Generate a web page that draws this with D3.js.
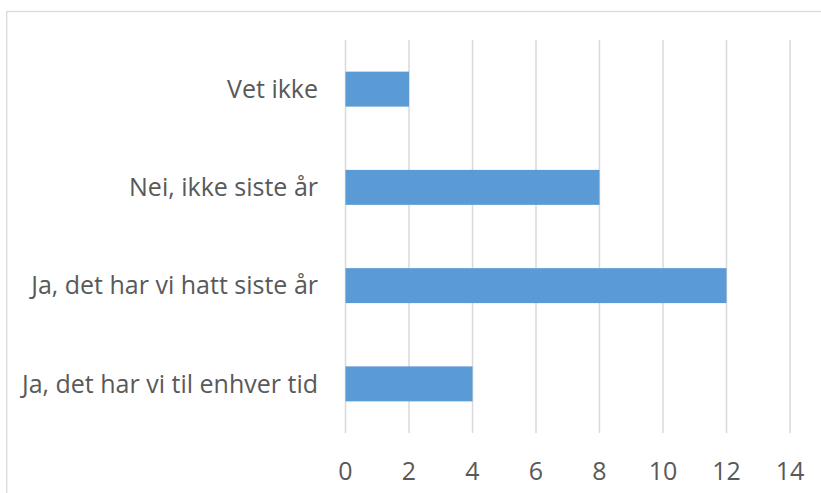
<!DOCTYPE html>
<html>
<head>
<meta charset="utf-8">
<script src="https://cdn.jsdelivr.net/npm/d3@7"></script>
<style>
  body { margin: 0; background: #fff; }
  text { font-family: "Open Sans", sans-serif; }
</style>
</head>
<body>
<div id="chart"></div>
<script>
// data, top to bottom as shown
const categories = ["Vet ikke", "Nei, ikke siste år", "Ja, det har vi hatt siste år", "Ja, det har vi til enhver tid"];
const values = [2, 8, 12, 4];
const xTicks = [0, 2, 4, 6, 8, 10, 12, 14];

const W = 821, H = 493;
const margin = { top: 40, right: 31, bottom: 60, left: 345.5 };
const width = W - margin.left - margin.right,
  height = H - margin.top - margin.bottom;

const svg = d3.select("#chart")
  .append("svg")
  .attr("width", W)
  .attr("height", H);

// chart frame (runs off the right and bottom edges)
svg.append("rect")
  .attr("x", 6.75)
  .attr("y", 11.5)
  .attr("width", W + 20)
  .attr("height", H + 20)
  .attr("fill", "#fff")
  .attr("stroke", "#d9d9d9")
  .attr("stroke-width", 1.3);

const g = svg.append("g")
  .attr("transform", `translate(${margin.left},${margin.top})`);

const x = d3.scaleLinear()
  .domain([0, 14])
  .range([0, width]);

const y = d3.scaleBand()
  .domain(categories)
  .range([0, height])
  .paddingInner(0.644)
  .paddingOuter(0.322);

// vertical gridlines
g.selectAll(".grid")
  .data(xTicks)
  .join("line")
  .attr("class", "grid")
  .attr("x1", d => x(d))
  .attr("x2", d => x(d))
  .attr("y1", 0)
  .attr("y2", height)
  .attr("stroke", "#d9d9d9")
  .attr("stroke-width", 1.5);

// bars
g.selectAll(".bar")
  .data(values)
  .join("rect")
  .attr("class", "bar")
  .attr("x", x(0))
  .attr("y", (d, i) => y(categories[i]))
  .attr("width", d => x(d) - x(0))
  .attr("height", y.bandwidth())
  .attr("fill", "#5b9bd5");

// category labels
g.selectAll(".cat")
  .data(categories)
  .join("text")
  .attr("class", "cat")
  .attr("x", -27.5)
  .attr("y", d => y(d) + y.bandwidth() / 2)
  .attr("dy", "0.35em")
  .attr("text-anchor", "end")
  .attr("font-size", 25)
  .attr("fill", "#595959")
  .text(d => d);

// x tick labels
g.selectAll(".tick-label")
  .data(xTicks)
  .join("text")
  .attr("class", "tick-label")
  .attr("x", d => x(d))
  .attr("y", height + 47)
  .attr("text-anchor", "middle")
  .attr("font-size", 25)
  .attr("fill", "#595959")
  .text(d => d);
</script>
</body>
</html>
